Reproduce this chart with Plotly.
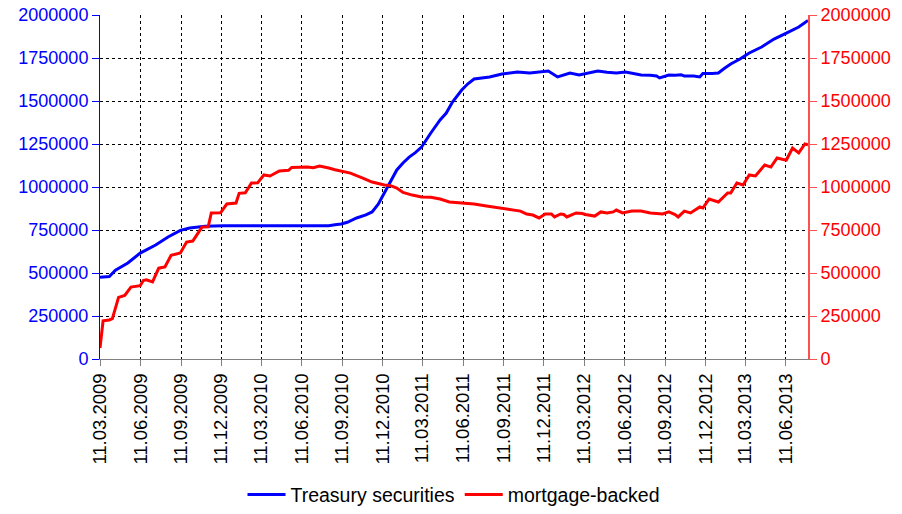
import pandas as pd
import plotly.graph_objects as go

START = "2009-03-11"

# Week offsets since 11.03.2009 and values
treasury_weeks = [0, 2, 3, 5, 9, 13, 18, 22, 26, 29, 31, 34, 40, 60, 74, 76, 78, 80, 83, 86, 88, 90, 92, 94, 96, 98,
                  100, 102, 104, 107, 110, 112, 114, 117, 119, 121, 123, 126, 130, 133, 135, 139, 142, 145, 148, 150,
                  152, 155, 158, 161, 164, 167, 170, 173, 175, 178, 180, 181, 183, 184, 186, 188, 189, 192, 194, 195,
                  198, 200, 202, 204, 207, 210, 214, 218, 222, 226, 229]
treasury_values = [476000, 476000, 480000, 517000, 558000, 616000, 663000, 709000, 748000, 762000, 767000, 772000,
                   775000, 775000, 775000, 780000, 785000, 795000, 820000, 838000, 855000, 900000, 965000, 1030000,
                   1099000, 1140000, 1174000, 1200000, 1232000, 1314000, 1390000, 1430000, 1494000, 1564000, 1600000,
                   1628000, 1634000, 1640000, 1657000, 1663000, 1669000, 1663000, 1670000, 1674000, 1640000, 1650000,
                   1663000, 1651000, 1663000, 1674000, 1667000, 1663000, 1669000, 1657000, 1651000, 1650000, 1645000,
                   1634000, 1648000, 1651000, 1650000, 1652000, 1645000, 1645000, 1640000, 1660000, 1660000, 1663000,
                   1690000, 1715000, 1744000, 1779000, 1814000, 1860000, 1895000, 1930000, 1968000]

mbs_weeks = [0, 1, 3, 4, 6, 8, 10, 13, 14, 15, 17, 19, 21, 23, 26, 28, 30, 33, 35, 36, 39, 41, 44, 45, 47, 49, 51, 53,
             55, 58, 61, 62, 67, 69, 71, 73, 74, 76, 78, 81, 85, 88, 92, 94, 96, 98, 101, 104, 107, 110, 113, 117, 121,
             125, 129, 134, 136, 138, 140, 142, 144, 146, 147, 149, 150, 151, 154, 156, 157, 160, 162, 164, 166, 167,
             169, 172, 175, 178, 180, 182, 184, 186, 187, 189, 191, 194, 195, 197, 200, 203, 204, 206, 208, 210, 212,
             215, 217, 219, 221, 222, 224, 226, 228, 229]
mbs_values = [64000, 222000, 227000, 235000, 358000, 370000, 418000, 426000, 456000, 460000, 448000, 528000, 535000,
              603000, 616000, 680000, 686000, 767000, 769000, 849000, 850000, 901000, 907000, 963000, 966000, 1023000,
              1024000, 1070000, 1064000, 1093000, 1097000, 1114000, 1116000, 1112000, 1122000, 1116000, 1110000,
              1100000, 1093000, 1081000, 1052000, 1029000, 1012000, 1008000, 994000, 968000, 953000, 942000, 940000,
              930000, 913000, 907000, 901000, 890000, 878000, 866000, 860000, 843000, 837000, 820000, 843000, 843000,
              826000, 843000, 840000, 826000, 849000, 846000, 840000, 831000, 855000, 849000, 855000, 866000, 849000,
              860000, 860000, 849000, 846000, 843000, 855000, 840000, 826000, 860000, 849000, 884000, 878000, 930000,
              913000, 965000, 965000, 1023000, 1012000, 1070000, 1064000, 1128000, 1116000, 1169000, 1160000, 1157000,
              1227000, 1198000, 1250000, 1245000]

tick_dates = ["2009-03-11", "2009-06-11", "2009-09-11", "2009-12-11", "2010-03-11", "2010-06-11", "2010-09-11",
              "2010-12-11", "2011-03-11", "2011-06-11", "2011-09-11", "2011-12-11", "2012-03-11", "2012-06-11",
              "2012-09-11", "2012-12-11", "2013-03-11", "2013-06-11"]
y_ticks = [0, 250000, 500000, 750000, 1000000, 1250000, 1500000, 1750000, 2000000]

start = pd.Timestamp(START)
def to_dates(weeks):
    return [start + pd.Timedelta(days=7 * w) for w in weeks]

tick_text = [pd.Timestamp(d).strftime("%d.%m.%Y") for d in tick_dates]
font_family = "Arial, 'Liberation Sans', sans-serif"

fig = go.Figure()
fig.add_trace(go.Scatter(x=to_dates(treasury_weeks), y=treasury_values, mode="lines",
                         name="Treasury securities", line=dict(color="#0000ff", width=3)))
fig.add_trace(go.Scatter(x=to_dates(mbs_weeks), y=mbs_values, mode="lines",
                         name="mortgage-backed", line=dict(color="#ff0000", width=3), yaxis="y2"))

fig.update_layout(
    width=902, height=514,
    margin=dict(l=100, r=94, t=15, b=155, autoexpand=False),
    paper_bgcolor="white", plot_bgcolor="white",
    font=dict(family=font_family, size=18, color="black"),
    showlegend=True,
    legend=dict(orientation="h", x=0.5, xanchor="center", y=-0.395, yanchor="middle",
                font=dict(size=19.5, color="black"), itemwidth=38, tracegroupgap=0),
    xaxis=dict(
        type="date", automargin=False,
        range=[start, start + pd.Timedelta(days=7 * 229)],
        tickmode="array", tickvals=tick_dates, ticktext=tick_text,
        tickangle=-90, tickfont=dict(size=18.5, color="black"),
        ticks="outside", ticklen=6, tickcolor="#808080",
        showline=True, linecolor="#808080", linewidth=1,
        showgrid=True, gridcolor="black", gridwidth=1, griddash="dot",
        zeroline=False,
    ),
    yaxis=dict(
        range=[0, 2000000], tickmode="array", tickvals=y_ticks, tickformat="d", automargin=False,
        tickfont=dict(size=18, color="#0000ff"),
        ticks="outside", ticklen=7, tickcolor="#0000ff",
        showline=True, linecolor="#0000ff", linewidth=1,
        showgrid=True, gridcolor="black", gridwidth=1, griddash="dot",
        zeroline=False,
    ),
    yaxis2=dict(
        range=[0, 2000000], tickmode="array", tickvals=y_ticks, tickformat="d", automargin=False,
        overlaying="y", side="right",
        tickfont=dict(size=18, color="#ff0000"),
        ticks="outside", ticklen=7, tickcolor="#ff5050",
        showline=True, linecolor="#ff5050", linewidth=2,
        showgrid=False, zeroline=False,
    ),
)

fig.write_html("out.html", config={"displayModeBar": False},
               post_script="document.body.style.margin='0';")
